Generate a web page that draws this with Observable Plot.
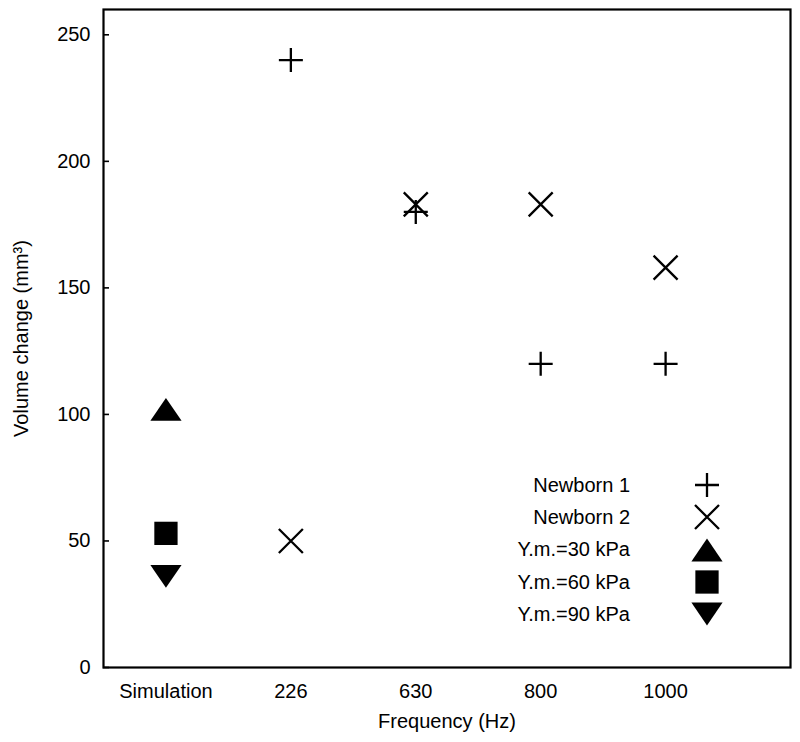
<!DOCTYPE html>
<html>
<head>
<meta charset="utf-8">
<script src="https://cdn.jsdelivr.net/npm/d3@7"></script>
<script src="https://cdn.jsdelivr.net/npm/@observablehq/plot@0.6"></script>
<style>
  html, body { margin: 0; padding: 0; background: #fff; }
  #wrap { position: relative; width: 800px; height: 742px; font-family: "Liberation Sans", Arial, sans-serif; }
  #legend { position: absolute; left: 480px; top: 469px; }
  .lrow { display: flex; align-items: center; height: 32.3px; }
  .llab { width: 150px; text-align: right; font-size: 20px; color: #000; }
  .lsym { margin-left: 60px; }
</style>
</head>
<body>
<div id="wrap"></div>
<script>
// ---- data ----
const categories = ["Simulation", "226", "630", "800", "1000"];
const newborn1 = [null, 240, 180, 120, 120];
const newborn2 = [null, 50, 183, 183, 158];
const simLabels = ["Y.m.=30 kPa", "Y.m.=60 kPa", "Y.m.=90 kPa"];
const simValues = [102, 53, 36];
const yTicks = [0, 50, 100, 150, 200, 250];
const seriesNames = ["Newborn 1", "Newborn 2", ...simLabels];

// ---- custom symbols ----
const plusSym = {draw(c, size) { const r = Math.sqrt(size / Math.PI); c.moveTo(-r, 0); c.lineTo(r, 0); c.moveTo(0, -r); c.lineTo(0, r); }};
const timesSym = {draw(c, size) { const r = Math.sqrt(size / Math.PI); c.moveTo(-r, -r); c.lineTo(r, r); c.moveTo(-r, r); c.lineTo(r, -r); }};
const triUpSym = {draw(c, size) { const r = Math.sqrt(size / Math.PI); const hw = r * 1.3, hh = r * 0.95; c.moveTo(0, -hh); c.lineTo(hw, hh); c.lineTo(-hw, hh); c.closePath(); }};
const squareSym = {draw(c, size) { const r = Math.sqrt(size / Math.PI); const h = r * 0.97; c.rect(-h, -h, 2 * h, 2 * h); }};
const triDownSym = {draw(c, size) { const r = Math.sqrt(size / Math.PI); const hw = r * 1.3, hh = r * 0.95; c.moveTo(0, hh); c.lineTo(hw, -hh); c.lineTo(-hw, -hh); c.closePath(); }};
const simSymbols = [triUpSym, squareSym, triDownSym];
const legendSymbols = [plusSym, timesSym, ...simSymbols];
const legendFilled = [false, false, true, true, true];

// ---- tables ----
const nb1 = categories.map((c, i) => ({i, v: newborn1[i]})).filter(d => d.v != null);
const nb2 = categories.map((c, i) => ({i, v: newborn2[i]})).filter(d => d.v != null);
const sims = simValues.map((v, k) => ({i: 0, v, k}));

const R = 12;
const chart = Plot.plot({
  width: 800,
  height: 742,
  marginLeft: 103,
  marginRight: 10,
  marginTop: 9,
  marginBottom: 75,
  style: {fontFamily: '"Liberation Sans", Arial, sans-serif', fontSize: "20px", color: "#000", background: "#fff"},
  x: {type: "linear", domain: [-0.5, 5]},
  y: {domain: [0, 260]},
  marks: [
    Plot.frame({stroke: "#000", strokeWidth: 2.2}),
    Plot.axisY({ticks: yTicks, tickSize: -6, tickPadding: 19, strokeWidth: 1.6, label: "Volume change (mm³)", labelAnchor: "center", labelOffset: 90, labelArrow: "none", fontSize: 20}),
    Plot.axisX({ticks: [0, 1, 2, 3, 4], tickFormat: i => categories[i], tickSize: 0, tickPadding: 16, label: "Frequency (Hz)", labelAnchor: "center", labelOffset: 60, labelArrow: "none", fontSize: 20}),
    Plot.dot(nb1, {x: "i", y: "v", r: R, symbol: plusSym, stroke: "#000", strokeWidth: 2.3, fill: "none"}),
    Plot.dot(nb2, {x: "i", y: "v", r: R, symbol: timesSym, stroke: "#000", strokeWidth: 2.3, fill: "none"}),
    ...simSymbols.map((s, k) => Plot.dot(sims.filter(d => d.k === k), {x: "i", y: "v", r: R, symbol: s, fill: "#000", stroke: "none"}))
  ]
});
const wrap = document.getElementById("wrap");
wrap.appendChild(chart);

// ---- legend ----
const leg = document.createElement("div");
leg.id = "legend";
seriesNames.forEach((name, k) => {
  const row = document.createElement("div");
  row.className = "lrow";
  const lab = document.createElement("div");
  lab.className = "llab";
  lab.textContent = name;
  row.appendChild(lab);
  const svg = d3.create("svg").attr("class", "lsym").attr("width", 34).attr("height", 30);
  svg.append("path")
    .attr("transform", "translate(17,15)")
    .attr("d", d3.symbol(legendSymbols[k], Math.PI * R * R)())
    .attr("fill", legendFilled[k] ? "#000" : "none")
    .attr("stroke", legendFilled[k] ? "none" : "#000")
    .attr("stroke-width", 2.3);
  row.appendChild(svg.node());
  leg.appendChild(row);
});
wrap.appendChild(leg);
</script>
</body>
</html>
